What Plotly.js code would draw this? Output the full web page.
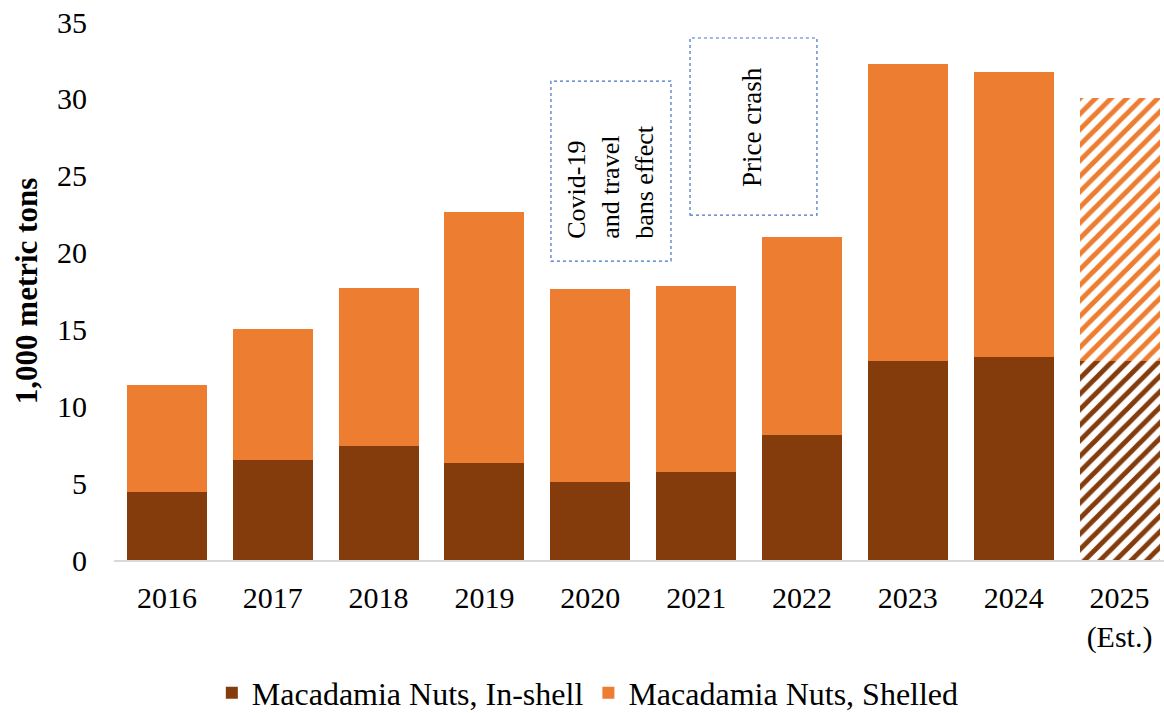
<!DOCTYPE html>
<html>
<head>
<meta charset="utf-8">
<script src="https://cdn.plot.ly/plotly-3.0.1.min.js"></script>
<style>html,body{margin:0;padding:0;background:#fff;}#chart{width:1164px;height:713px;}</style>
</head>
<body>
<div id="chart"></div>
<script>
const categories = ["2016","2017","2018","2019","2020","2021","2022","2023","2024","2025<br>(Est.)"];
const inShell = [4.40, 6.49, 7.42, 6.31, 5.05, 5.75, 8.11, 12.92, 13.19, 12.97];
const shelled = [6.99, 8.56, 10.26, 16.31, 12.58, 12.08, 12.89, 19.33, 18.56, 17.07];
const estimated = [false, false, false, false, false, false, false, false, false, true];
const yTicks = [0, 5, 10, 15, 20, 25, 30, 35];

const colInShell = "#843C0C";
const colShelled = "#ED7D31";
const FONT = "Liberation Serif, Times New Roman, serif";

function patt(col){
  return {
    shape: estimated.map(e => e ? "/" : ""),
    fgcolor: col,
    bgcolor: "#ffffff",
    size: 11,
    solidity: 0.45,
    fillmode: "replace"
  };
}

const traces = [
  {type:"bar", name:"Macadamia Nuts, In-shell", x:categories, y:inShell,
   marker:{color:colInShell, line:{width:0}, pattern:patt(colInShell)}, hoverinfo:"y"},
  {type:"bar", name:"Macadamia Nuts, Shelled", x:categories, y:shelled,
   marker:{color:colShelled, line:{width:0}, pattern:patt(colShelled)}, hoverinfo:"y"}
];

const boxLine = {color:"#4472C4", width:1.2, dash:"dot"};
const layout = {
  width:1164, height:713,
  margin:{l:114, r:0, t:22, b:153},
  barmode:"stack",
  bargap:0.244,
  paper_bgcolor:"#fff", plot_bgcolor:"#fff",
  font:{family:FONT, size:30, color:"#000"},
  xaxis:{type:"category", range:[-0.5, 9.42], showgrid:false, zeroline:false,
         showline:true, linecolor:"#d9d9d9", linewidth:2, ticks:"",
         tickfont:{family:FONT, size:30, color:"#000"}, ticklabelstandoff:10},
  yaxis:{range:[0,35], tickvals:yTicks, showgrid:false, zeroline:false, showline:false,
         ticks:"", tickfont:{family:FONT, size:30, color:"#000"}, ticklabelstandoff:26,
         title:{text:"<b>1,000 metric tons</b>", font:{family:FONT, size:31, color:"#000"}, standoff:10}},
  showlegend:true,
  legend:{orientation:"h", xref:"container", yref:"container", x:0.505, xanchor:"center",
          y:0.028, yanchor:"middle", font:{family:FONT, size:32, color:"#000"},
          traceorder:"normal", itemwidth:30},
  shapes:[
    {type:"rect", xref:"x", yref:"y", x0:3.628, x1:4.762, y0:19.45, y1:31.16, line:boxLine, fillcolor:"rgba(0,0,0,0)"},
    {type:"rect", xref:"x", yref:"y", x0:4.942, x1:6.141, y0:22.44, y1:33.96, line:boxLine, fillcolor:"rgba(0,0,0,0)"}
  ],
  annotations:[
    {xref:"x", yref:"y", x:4.195, y:24.6, text:"Covid-19<br>and travel<br>bans effect", showarrow:false,
     textangle:-90, align:"left", font:{family:FONT, size:26, color:"#000"}},
    {xref:"x", yref:"y", x:5.527, y:28.17, text:"Price crash", showarrow:false,
     textangle:-90, font:{family:FONT, size:27, color:"#000"}}
  ]
};

Plotly.newPlot("chart", traces, layout, {displayModeBar:false, staticPlot:true});
</script>
</body>
</html>
